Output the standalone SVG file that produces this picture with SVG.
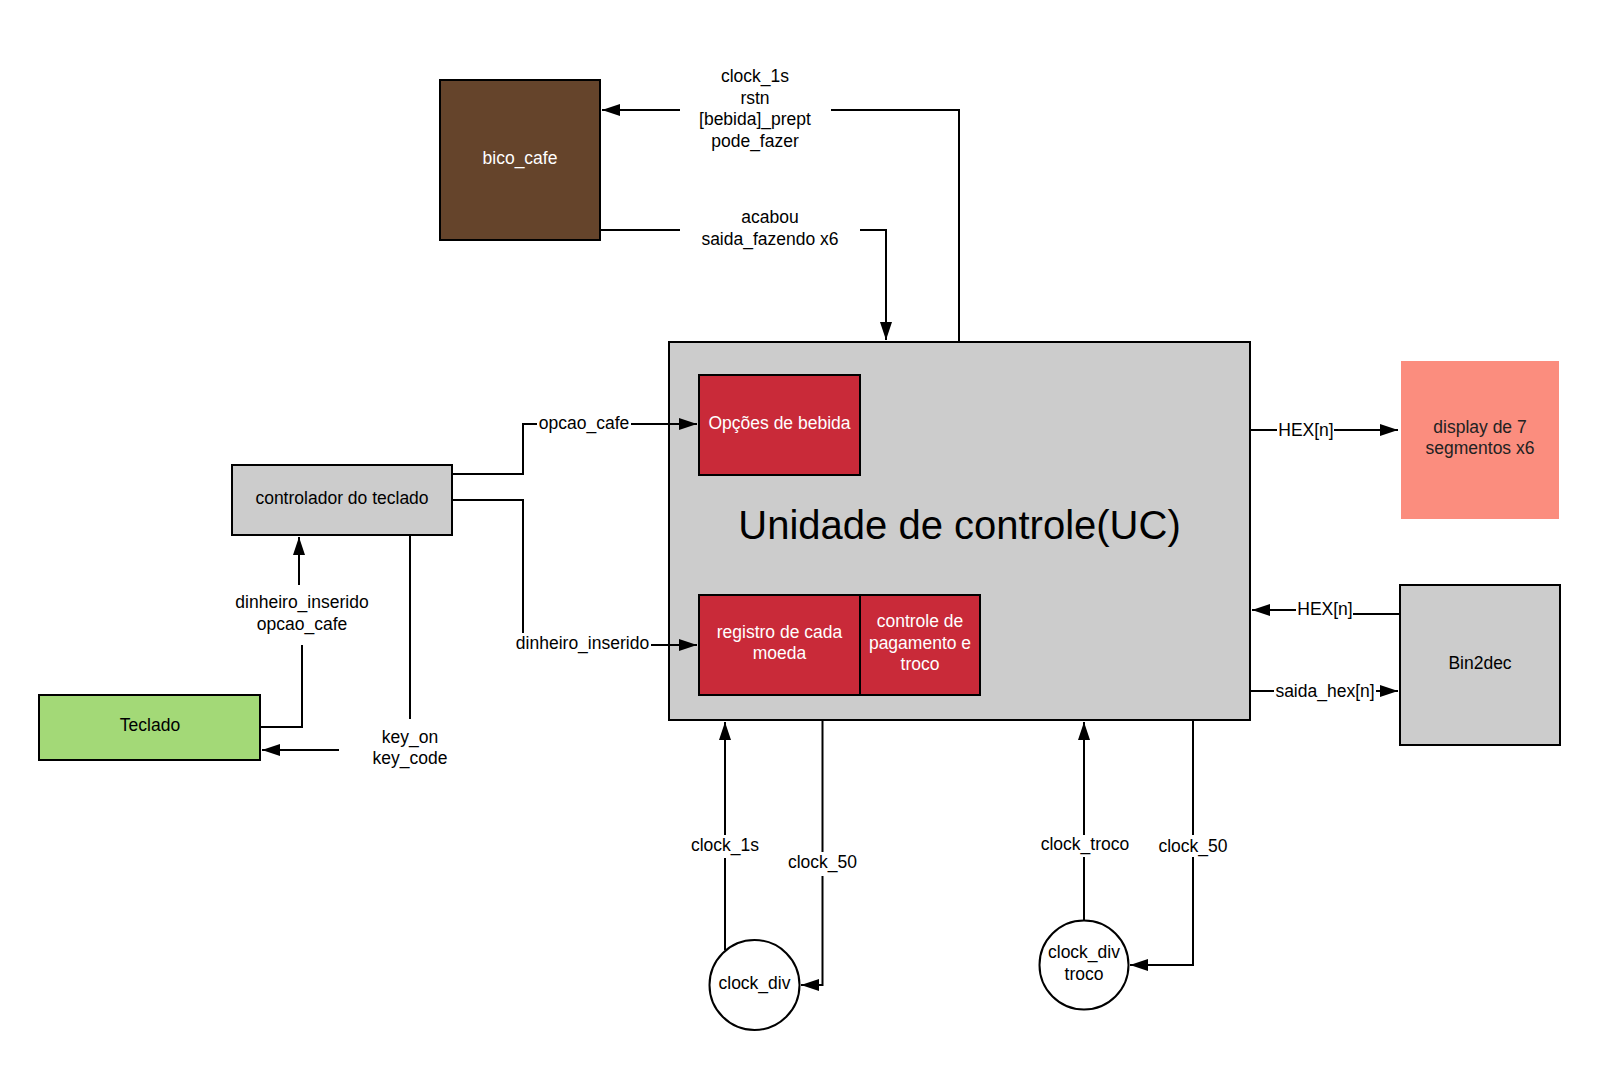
<svg xmlns="http://www.w3.org/2000/svg" width="1600" height="1070" viewBox="0 0 1600 1070">
<style>
text{font-family:"Liberation Sans",Arial,sans-serif;font-size:17.5px;fill:#000;text-anchor:middle}
.w{fill:#fff}
.box{stroke:#000;stroke-width:2}
.wire{fill:none;stroke:#000;stroke-width:2}
.lbg{fill:#fff;stroke:none}
</style>
<defs>
<marker id="ah" markerUnits="userSpaceOnUse" markerWidth="18" markerHeight="12" refX="18" refY="6" orient="auto">
<path d="M0,0 L18,6 L0,12 z" fill="#000"/>
</marker>
</defs>
<rect width="1600" height="1070" fill="#fff"/>

<g id="bico_cafe">
<rect class="box" x="440" y="80" width="160" height="160" fill="#65442b"/>
<text class="w" x="520" y="163.5">bico_cafe</text>
</g>

<g id="uc">
<rect class="box" x="669" y="342" width="581" height="378" fill="#cccccc"/>
<text x="959.5" y="539" style="font-size:40px">Unidade de controle(UC)</text>
</g>

<g id="opcoes_bebida">
<rect class="box" x="699" y="375" width="161" height="100" fill="#c92a39"/>
<text class="w" x="779.5" y="429">Opções de bebida</text>
</g>

<g id="registro_moeda">
<rect class="box" x="699" y="595" width="161" height="100" fill="#c92a39"/>
<text class="w" x="779.5" y="638">registro de cada</text>
<text class="w" x="779.5" y="659">moeda</text>
</g>

<g id="controle_pagamento">
<rect class="box" x="860" y="595" width="120" height="100" fill="#c92a39"/>
<text class="w" x="920" y="627">controle de</text>
<text class="w" x="920" y="648.5">pagamento e</text>
<text class="w" x="920" y="670">troco</text>
</g>

<g id="controlador_teclado">
<rect class="box" x="232" y="465" width="220" height="70" fill="#cccccc"/>
<text x="342" y="504">controlador do teclado</text>
</g>

<g id="teclado">
<rect class="box" x="39" y="695" width="221" height="65" fill="#a3d977"/>
<text x="150" y="731">Teclado</text>
</g>

<g id="display">
<rect x="1401" y="361" width="158" height="158" fill="#fb8d7e"/>
<text x="1480" y="433" style="fill:#222">display de 7</text>
<text x="1480" y="454" style="fill:#222">segmentos x6</text>
</g>

<g id="bin2dec">
<rect class="box" x="1400" y="585" width="160" height="160" fill="#cccccc"/>
<text x="1480" y="669">Bin2dec</text>
</g>

<g id="clock_div">
<circle class="box" cx="754.5" cy="985" r="45" fill="#fff"/>
<text x="754.5" y="989">clock_div</text>
</g>

<g id="clock_div_troco">
<circle class="box" cx="1084" cy="965" r="44.5" fill="#fff"/>
<text x="1084" y="958">clock_div</text>
<text x="1084" y="980">troco</text>
</g>

<g id="connectors">
<path class="wire" d="M959,342 V110 H602" marker-end="url(#ah)"/>
<path class="wire" d="M600,230 H886 V340" marker-end="url(#ah)"/>
<path class="wire" d="M452,474 H523 V424 H697" marker-end="url(#ah)"/>
<path class="wire" d="M452,500 H523 V645 H697" marker-end="url(#ah)"/>
<path class="wire" d="M260,727 H302 V612 H299 V537" marker-end="url(#ah)"/>
<path class="wire" d="M410,535 V750 H262" marker-end="url(#ah)"/>
<path class="wire" d="M1250,430 H1398" marker-end="url(#ah)"/>
<path class="wire" d="M1400,614 H1330 V610 H1252" marker-end="url(#ah)"/>
<path class="wire" d="M1250,691 H1398" marker-end="url(#ah)"/>
<path class="wire" d="M725,950 V722" marker-end="url(#ah)"/>
<path class="wire" d="M822.5,720 V985 H801" marker-end="url(#ah)"/>
<path class="wire" d="M1084,920 V722" marker-end="url(#ah)"/>
<path class="wire" d="M1193,720 V965 H1130" marker-end="url(#ah)"/>

<rect class="lbg" x="680" y="62" width="151" height="90"/>
<text x="755" y="82">clock_1s</text>
<text x="755" y="103.5">rstn</text>
<text x="755" y="125">[bebida]_prept</text>
<text x="755" y="146.5">pode_fazer</text>

<rect class="lbg" x="680" y="203" width="180" height="50"/>
<text x="770" y="223">acabou</text>
<text x="770" y="245">saida_fazendo x6</text>

<rect class="lbg" x="537" y="413" width="94" height="20"/>
<text x="584" y="429">opcao_cafe</text>

<rect class="lbg" x="513" y="633" width="138" height="20"/>
<text x="582.5" y="649">dinheiro_inserido</text>

<rect class="lbg" x="229" y="585" width="145" height="60"/>
<text x="302" y="608">dinheiro_inserido</text>
<text x="302" y="629.5">opcao_cafe</text>

<rect class="lbg" x="339" y="719" width="142" height="53"/>
<text x="410" y="743">key_on</text>
<text x="410" y="764">key_code</text>

<rect class="lbg" x="1277" y="420" width="57" height="20"/>
<text x="1306" y="436">HEX[n]</text>

<rect class="lbg" x="1296" y="600" width="57" height="20"/>
<text x="1325" y="615">HEX[n]</text>

<rect class="lbg" x="1274" y="681" width="102" height="20"/>
<text x="1325" y="697">saida_hex[n]</text>

<rect class="lbg" x="688" y="835" width="74" height="23"/>
<text x="725" y="851">clock_1s</text>

<rect class="lbg" x="786" y="852" width="73" height="24"/>
<text x="822.5" y="868">clock_50</text>

<rect class="lbg" x="1038" y="835" width="94" height="22"/>
<text x="1085" y="850">clock_troco</text>

<rect class="lbg" x="1157" y="835" width="72" height="22"/>
<text x="1193" y="852">clock_50</text>
</g>
</svg>
